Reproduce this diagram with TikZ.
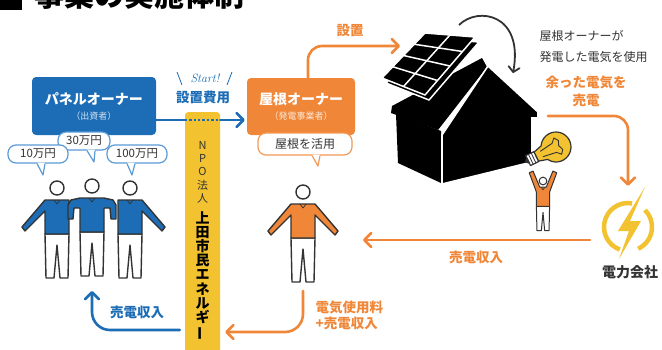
\documentclass[tikz,border=0pt]{standalone}
\usepackage{fontspec}
\newfontfamily\jp{Noto Sans CJK JP}
\usetikzlibrary{arrows.meta,calc,positioning}
\definecolor{cblue}{HTML}{1C6DB6}
\definecolor{cbubble}{HTML}{5A9AD6}
\definecolor{corange}{HTML}{F08738}
\definecolor{cyellow}{HTML}{F2C230}
\definecolor{cink}{HTML}{333333}
\newcommand{\sz}[1]{\fontsize{#1}{#1}\selectfont}
% stick figure: scope options, shirt colour, shirt outline
\newcommand{\person}[3]{%
  \begin{scope}[#1]
    \draw[outline, fill=white] (-12,46) -- (12,46) -- (11,90) -- (3,90) -- (0,57)
      -- (-3,90) -- (-11,90) -- cycle;
    \draw[outline, fill=#2] #3;
    \draw[outline, line width=0.7pt] (-3,12) -- (0,16) -- (3,12);
    \draw[outline, fill=white] (0,0) circle (7);
  \end{scope}}
\newcommand{\armsdown}{(-12,12) -- (12,12) -- (35,39) -- (32,43) -- (12,23) -- (12,46)
  -- (-12,46) -- (-12,23) -- (-32,43) -- (-35,39) -- cycle}
\newcommand{\onearm}{(-12,12) -- (12,12) -- (12,46) -- (-12,46) -- (-12,23) -- (-32,43)
  -- (-35,39) -- cycle}
\newcommand{\armsover}{(-12,12) -- (12,12) -- (21,14) -- (24,19) -- (24,33) -- (19,33)
  -- (18,22) -- (12,22) -- (12,46) -- (-12,46) -- (-12,22) -- (-18,22) -- (-19,33)
  -- (-24,33) -- (-24,19) -- (-21,14) -- cycle}
\newcommand{\armsup}{(-12,46) -- (-12,20) -- (-25,-15) -- (-18,-18) -- (-6,11) -- (6,11)
  -- (18,-18) -- (25,-15) -- (12,20) -- (12,46) -- cycle}
% tail of a speech bubble: node, offset of the tail, tip, colour
\newcommand{\bubbletail}[4]{%
  \fill[white] ([xshift={#2pt-4pt}, yshift=1pt]#1.south) -- #3
    -- ([xshift={#2pt+4pt}, yshift=1pt]#1.south) -- cycle;
  \draw[line width=1.2pt, draw=#4, line join=round] ([xshift={#2pt-4pt}]#1.south) -- #3
    -- ([xshift={#2pt+4pt}]#1.south);}

\begin{document}
\begin{tikzpicture}[x=1pt, y=-1pt,
    >={Straight Barb[length=7pt, width=14pt, round]},
    box/.style={rounded corners=4pt, inner sep=0pt, align=center, text=white, font=\jp},
    bubble/.style={draw, fill=white, line width=1.2pt, rounded corners=8pt, inner sep=0pt,
                   font=\jp\sz{11.5}, text=cink},
    wire/.style={line width=2.6pt, line cap=round},
    flow/.style={->, wire},
    lbl/.style={font=\jp\bfseries\sz{13.5}},
    note/.style={font=\jp\fontsize{12}{21}\selectfont, text=cink, align=left},
    outline/.style={draw=cink, line width=1.4pt, line join=round},
    solar/.style={fill=black, draw=white, line width=1.5pt, line join=round},
  ]
  \useasboundingbox (0,0) rectangle (662,349);
  \clip (0,0) rectangle (662,349);
  % heading, cut by the top edge
  \fill[black] (0,-14) rectangle (22,10);
  \node[font=\jp\bfseries\sz{30}, inner sep=0pt, anchor=base west] (title) at (34,6.5)
    {事業の実施体制};

  % == the two owners
  \node[box, fill=cblue, minimum width=124, minimum height=58] (panel) at (94,106)
    {\bfseries\sz{14}パネルオーナー\\[3pt]\color{white!80!cblue}\sz{9}（出資者）};
  \node[box, fill=corange, minimum width=108, minimum height=57] (roof) at (301,106.5)
    {\bfseries\sz{14}屋根オーナー\\[3pt]\color{white!80!corange}\sz{9}（発電事業者）};
  \node[bubble, draw=cbubble, minimum width=52, minimum height=18] (b30) at (84,141) {30万円};
  \bubbletail{b30}{7}{(94,162)}{cbubble}
  \node[bubble, draw=cbubble, minimum width=60, minimum height=18] (b10) at (38,154) {10万円};
  \bubbletail{b10}{3}{(43,175)}{cbubble}
  \node[bubble, draw=cbubble, minimum width=60, minimum height=18] (b100) at (137,154) {100万円};
  \bubbletail{b100}{-6}{(132,175)}{cbubble}
  \node[bubble, draw=corange!85, minimum width=94, minimum height=22, font=\jp\sz{12}]
    (broof) at (305,144) {屋根を活用};
  \bubbletail{broof}{11}{(318,166)}{corange!85}

  % investors arm in arm, and the roof owner
  \person{shift={(57,188)}}{cblue}{\onearm}
  \person{shift={(130,188)}, xscale=-1}{cblue}{\onearm}
  \person{shift={(92,186)}}{cblue}{\armsover}
  \person{shift={(303,192)}}{corange}{\armsdown}

  % == the NPO in between
  \node[fill=cyellow, rounded corners=3pt, minimum width=35, minimum height=260,
        inner sep=0pt, anchor=north] (npo) at (202.5,112) {};
  \node[font=\jp\fontsize{11}{13.3}\selectfont, text=cink, align=center, inner sep=0pt,
        anchor=north] (npotag) at (202.5,141) {N\\P\\O\\法\\人};
  \node[font=\jp\bfseries\fontsize{14}{14.2}\selectfont, align=center, inner sep=0pt,
        anchor=north] (nponame) at (202.5,211)
    {上\\田\\市\\民\\エ\\ネ\\ル\\ギ\\\rotatebox[origin=c]{90}{ー}};

  % installation cost, dotted where it runs through the NPO
  \coordinate (costlvl) at (0,120);
  \draw[wire, cblue] (panel.east |- costlvl) -- (npo.west |- costlvl);
  \draw[cblue, line width=2.6pt, dash pattern=on 2.4pt off 2pt] (npo.west |- costlvl)
    -- (npo.east |- costlvl);
  \draw[flow, cblue, shorten >=2pt] (npo.east |- costlvl) -- (roof.west |- costlvl);
  \node[lbl, text=cblue] (costlbl) at (203,97) {設置費用};
  \node[font=\itshape\sz{12}, text=cblue] (start) at (205,78.5) {Start!};
  \draw[cblue, line width=0.8pt] (177,72) -- (182,85) (232,72) -- (227,85);

  % == house with solar panels
  \fill[black] (392,106) -- (391,113) -- (438,130) -- (487,67) -- (482,58) -- cycle;
  \fill[black] (396,114) -- (441,131) -- (441,183) -- (398,163) -- cycle;
  \filldraw[fill=black, draw=white, line width=1.6pt] (442,135) -- (488,66) -- (538,112)
    -- (538,118) -- (532,118) -- (532,162) -- (442,184) -- cycle;
  \coordinate (pbl) at (382,78);
  \coordinate (pbr) at (425,95);
  \coordinate (ptr) at (475,37);
  \coordinate (ptl) at (425,33);
  \path[solar] ([shift={(4,5)}]pbl) -- ([shift={(4,5)}]pbr) -- ([shift={(4,5)}]ptr)
    -- ([shift={(4,5)}]ptl) -- cycle;
  \path[solar] (pbl) -- (pbr) -- (ptr) -- (ptl) -- cycle;
  \foreach \t in {0.25,0.5,0.75}
    \draw[white, line width=1.5pt] ($(pbl)!\t!(ptl)$) -- ($(pbr)!\t!(ptr)$);
  \draw[white, line width=1.5pt] ($(pbl)!0.5!(pbr)$) -- ($(ptl)!0.5!(ptr)$);
  % own use of the power
  \draw[->, cink, line width=1.8pt, >={Straight Barb[length=5pt, width=11pt, round]}]
    (459,25) .. controls (478,6) and (524,14) .. (513,73);
  \node[note, anchor=west] (selfuse) at (536,46) {屋根オーナーが\\発電した電気を使用};

  % lamp held up by a small figure
  \begin{scope}[shift={(556,147)}, rotate=26]
    \draw[outline, line width=1.2pt, fill=cyellow] (-22,-5) -- (-13,-7.5)
      arc[start angle=-150, end angle=150, radius=15] -- (-22,5) -- cycle;
    \draw[cink, line width=0.9pt, line join=round] (-16,-3) -- (-2,-5) -- (2,-9) -- (5,-5)
      -- (3,0) -- (5,5) -- (2,9) -- (-2,5) -- (-16,3);
    \draw[outline, line width=1.2pt, fill=white] (-22,-5.5) rectangle (-31,5.5);
    \draw[cink, line width=0.8pt] (-25,-5.5) -- (-25,5.5) (-28,-5.5) -- (-28,5.5);
    \draw[outline, line width=1pt, fill=cink] (-31,-3) -- (-34,0) -- (-31,3) -- cycle;
  \end{scope}
  \person{shift={(543,181)}, scale=0.55, outline/.append style={line width=1pt}}{corange}{\armsup}

  % == power company
  \node[circle, minimum size=54, inner sep=0pt] (power) at (628,227) {};
  \draw[cyellow, line width=4.5pt] (power.center) ++(-80:24)
    arc[start angle=-80, end angle=-250, radius=24];
  \draw[cyellow, line width=4.5pt] (power.center) ++(65:24)
    arc[start angle=65, end angle=-45, radius=24];
  \fill[cyellow] (645,187) -- (618,231) -- (629,231) -- (619,259) -- (641,221) -- (630,221)
    -- cycle;
  \node[font=\jp\bfseries\sz{14}, text=cink] (powerlbl) at (630,272) {電力会社};

  % == money and power flows
  \coordinate (housein) at (400,46);
  \draw[flow, corange, rounded corners=14pt] ([xshift=7pt]roof.north) |- (housein);
  \node[lbl, text=corange] (setup) at (350,31) {設置};
  \node[lbl, text=corange, align=center, font=\jp\bfseries\fontsize{13.5}{18}\selectfont]
    (surpluslbl) at (586,91) {余った電気を\\売電};
  \coordinate (surplus) at (548,116);
  \draw[flow, corange, rounded corners=14pt, shorten >=14pt] (surplus) -| (power.north);
  \coordinate (payin) at (590,240);
  \coordinate (payout) at (363,240);
  \draw[flow, corange] (payin) -- (payout);
  \node[lbl, text=corange] (saleslbl) at (476,257) {売電収入};
  \coordinate (ownerfoot) at (303,291);
  \coordinate (backlvl) at (0,332);
  \draw[flow, corange, rounded corners=18pt, shorten >=5pt] (ownerfoot) |- (npo.east |- backlvl);
  \node[lbl, text=corange, align=left, anchor=west,
        font=\jp\bfseries\fontsize{13.5}{16}\selectfont] (feelbl) at (312,315)
    {電気使用料\\+売電収入};
  \coordinate (investlvl) at (0,330);
  \coordinate (investor) at (92,291);
  \draw[flow, cblue, rounded corners=18pt, shorten <=5pt] (npo.west |- investlvl) -| (investor);
  \node[lbl, text=cblue] (returnlbl) at (137,312) {売電収入};
\end{tikzpicture}
\end{document}
